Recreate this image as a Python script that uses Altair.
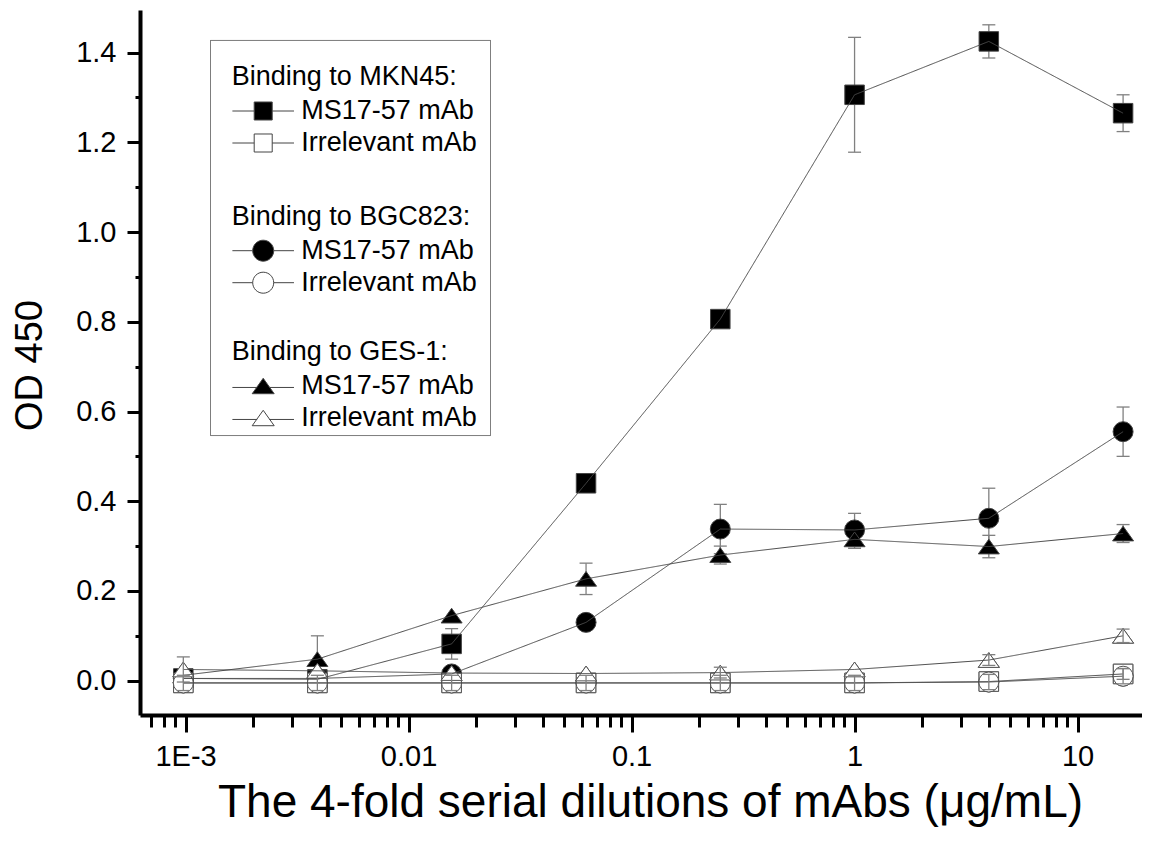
import altair as alt
import pandas as pd

FONT = "Liberation Sans"

# ---- data ----------------------------------------------------------------
dilutions = [0.000977, 0.0039, 0.0156, 0.0625, 0.25, 1.0, 4.0, 16.0]

mkn45_ms17 = [0.005, 0.003, 0.082, 0.440, 0.806, 1.306, 1.425, 1.265]
mkn45_ms17_err = [0.0, 0.0, 0.034, 0.0, 0.0, 0.128, 0.037, 0.041]
mkn45_irr = [-0.005, -0.005, -0.005, -0.005, -0.005, -0.005, -0.002, 0.015]
mkn45_irr_err = [0.0, 0.0, 0.0, 0.0, 0.0, 0.0, 0.0, 0.012]

bgc823_ms17 = [0.005, 0.005, 0.015, 0.130, 0.338, 0.336, 0.362, 0.555]
bgc823_ms17_err = [0.0, 0.0, 0.0, 0.0, 0.055, 0.037, 0.067, 0.055]
bgc823_irr = [-0.005, -0.005, -0.005, -0.005, -0.005, -0.005, -0.003, 0.010]
bgc823_irr_err = [0.017, 0.017, 0.017, 0.017, 0.017, 0.017, 0.017, 0.017]

ges1_ms17 = [0.012, 0.048, 0.145, 0.227, 0.280, 0.315, 0.299, 0.328]
ges1_ms17_err = [0.0, 0.052, 0.0, 0.035, 0.020, 0.020, 0.025, 0.020]
ges1_irr = [0.025, 0.022, 0.017, 0.016, 0.018, 0.025, 0.046, 0.100]
ges1_irr_err = [0.028, 0.0, 0.0, 0.0, 0.012, 0.0, 0.012, 0.015]

cells = ["MKN45", "BGC823", "GES-1"]
group_titles = ["Binding to MKN45:", "Binding to BGC823:", "Binding to GES-1:"]
mab_labels = ["MS17-57 mAb", "Irrelevant mAb"]

x_major_ticks = [0.001, 0.01, 0.1, 1, 10]
x_major_labels = ["1E-3", "0.01", "0.1", "1", "10"]
y_major_ticks = [0.0, 0.2, 0.4, 0.6, 0.8, 1.0, 1.2, 1.4]
y_minor_ticks = [0.1, 0.3, 0.5, 0.7, 0.9, 1.1, 1.3]

x_title = "The 4-fold serial dilutions of mAbs (\u03bcg/mL)"
y_title = "OD 450"

# ---- table ---------------------------------------------------------------
series = [
    (cells[0], mab_labels[0], mkn45_ms17, mkn45_ms17_err),
    (cells[0], mab_labels[1], mkn45_irr, mkn45_irr_err),
    (cells[1], mab_labels[0], bgc823_ms17, bgc823_ms17_err),
    (cells[1], mab_labels[1], bgc823_irr, bgc823_irr_err),
    (cells[2], mab_labels[0], ges1_ms17, ges1_ms17_err),
    (cells[2], mab_labels[1], ges1_irr, ges1_irr_err),
]
rows = []
for cell, mab, ys, es in series:
    for xv, yv, ev in zip(dilutions, ys, es):
        rows.append(dict(x=xv, y=yv, lo=yv - ev, hi=yv + ev, err=ev,
                         cell=cell, mab=mab, series=cell + " / " + mab))
df = pd.DataFrame(rows)

x_minor_ticks = [m * 10.0 ** e for e in range(-4, 2) for m in range(2, 10)]
x_minor_ticks = [v for v in x_minor_ticks if 0.00063 <= v <= 19.4]

# ---- scales & axes ---------------------------------------------------------
xscale = alt.Scale(type="log", domain=[0.0006247, 19.45], nice=False)
yscale = alt.Scale(domain=[-0.0765, 1.495], nice=False, zero=False)

label_expr = "''"
for v, lab in reversed(list(zip(x_major_ticks, x_major_labels))):
    label_expr = f"abs(datum.value - {v}) < {v * 1e-3} ? '{lab}' : ({label_expr})"

x_major_axis = alt.Axis(
    orient="bottom", values=x_major_ticks, labelExpr=label_expr, grid=False,
    tickSize=17, tickWidth=3, tickColor="black", domainWidth=4, domainColor="black",
    labelFont=FONT, labelFontSize=29, labelColor="black", labelPadding=10,
    labelAngle=0, labelFlush=False, labelOverlap=False,
    title=x_title, titleFont=FONT, titleFontSize=46, titleFontWeight="normal",
    titleColor="black", titleX=510, titleY=101, titleBaseline="alphabetic",
)
x_minor_axis = alt.Axis(
    orient="bottom", values=x_minor_ticks, labels=False, domain=False, grid=False,
    tickSize=12, tickWidth=3, tickColor="black", title=None,
)
y_major_axis = alt.Axis(
    orient="left", values=y_major_ticks, format=".1f", grid=False,
    tickSize=13, tickWidth=3, tickColor="black", domainWidth=4, domainColor="black",
    labelFont=FONT, labelFontSize=29, labelColor="black", labelPadding=11,
    labelFlush=False, labelOverlap=False,
    title=y_title, titleFont=FONT, titleFontSize=38, titleFontWeight="normal",
    titleColor="black", titleX=-99, titleY=355, titleBaseline="alphabetic",
    titleAlign="center",
)
y_minor_axis = alt.Axis(
    orient="left", values=y_minor_ticks, labels=False, domain=False, grid=False,
    tickSize=5, tickWidth=3, tickColor="black", title=None,
)

base = alt.Chart(df)
X_NOAXIS = alt.X("x:Q", scale=xscale, axis=None)

# legend frame drawn as the symbol of a one-entry legend
frame_legend = alt.Legend(
    title=None, orient="none", legendX=70, legendY=87.5, direction="vertical",
    symbolType="M-1,-1.411H1V1.411H-1Z", symbolSize=78400,
    symbolStrokeColor="#555555", symbolStrokeWidth=1, symbolFillColor="transparent",
    labelExpr="''", labelFontSize=1, labelOffset=0, padding=0,
)

lines = base.mark_line(color="#4a4a4a", strokeWidth=1).encode(
    x=alt.X("x:Q", scale=xscale, axis=x_major_axis),
    y=alt.Y("y:Q", scale=yscale, axis=y_major_axis),
    detail="series:N",
    strokeDash=alt.StrokeDash("frame:N", scale=alt.Scale(domain=["frame"], range=[[1, 0]]),
                              legend=frame_legend),
).transform_calculate(frame="'frame'")


def error_layers(mab, first=False):
    err = base.transform_filter((alt.datum.err > 0) & (alt.datum.mab == mab))
    rules = err.mark_rule(color="#808080", strokeWidth=1.3).encode(
        x=alt.X("x:Q", scale=xscale, axis=x_minor_axis) if first else X_NOAXIS,
        y=alt.Y("lo:Q", scale=yscale, axis=y_minor_axis if first else None),
        y2="hi:Q",
    )
    caps_lo = err.mark_tick(orient="horizontal", size=13, thickness=1.3,
                            color="#808080", opacity=1).encode(
        x=X_NOAXIS, y=alt.Y("lo:Q", scale=yscale, axis=None))
    caps_hi = err.mark_tick(orient="horizontal", size=13, thickness=1.3,
                            color="#808080", opacity=1).encode(
        x=X_NOAXIS, y=alt.Y("hi:Q", scale=yscale, axis=None))
    return [rules, caps_lo, caps_hi]


# legend symbols: a short line with the marker, in units of sqrt(size)/2 = 18.3 px
LEG_SIZE = 36.6 ** 2
marker_shapes = ["square", "circle", "M0,-0.7L1,0.7L-1,0.7Z"]
marker_sizes = [380, 400, 441]
legend_symbols = [
    "M-1.683,0H-0.492M0.492,0H1.683M-0.492,-0.492H0.492V0.492H-0.492Z",
    "M-1.683,0H-0.574M0.574,0H1.683M-0.574,0A0.574,0.574,0,1,0,0.574,0A0.574,0.574,0,1,0,-0.574,0Z",
    "M-1.683,0.08H-0.33M0.33,0.08H1.683M0,-0.421L0.601,0.421L-0.601,0.421Z",
]
legend_y = [54.0, 193.7, 329.0]

# markers of each cell line (filled + open) carry that cell line's legend
point_layers = []
for i, cell in enumerate(cells):
    leg = alt.Legend(
        title=group_titles[i], orient="none", legendX=91.7, legendY=legend_y[i],
        direction="vertical", padding=0,
        symbolType=legend_symbols[i], symbolSize=LEG_SIZE, symbolOffset=12.5,
        symbolStrokeColor="#444444", symbolStrokeWidth=1,
        labelFont=FONT, labelFontSize=27, labelColor="black", labelOffset=19.1,
        labelLimit=400, titleFont=FONT, titleFontSize=27, titleFontWeight="normal",
        titleColor="black", titleLimit=400, titlePadding=1.0, rowPadding=0,
    )
    p = base.transform_filter(alt.datum.cell == cell).mark_point(
        shape=marker_shapes[i], size=marker_sizes[i], filled=True,
        stroke="#444444", strokeWidth=1, opacity=1,
    ).encode(
        x=X_NOAXIS,
        y=alt.Y("y:Q", scale=yscale, axis=None),
        fill=alt.Fill("mab:N", scale=alt.Scale(domain=mab_labels, range=["#000000", "#ffffff"]),
                      legend=leg),
    )
    point_layers.append(p)

# open (irrelevant mAb) markers redrawn on top, white-filled
open_layers = []
for i, cell in enumerate(cells):
    o = base.transform_filter((alt.datum.cell == cell) & (alt.datum.mab == mab_labels[1])).mark_point(
        shape=marker_shapes[i], size=marker_sizes[i], filled=True,
        fill="#ffffff", stroke="#555555", strokeWidth=1, opacity=1,
    ).encode(x=X_NOAXIS, y=alt.Y("y:Q", scale=yscale, axis=None))
    open_layers.append(o)

layers = (error_layers(mab_labels[0], first=True) + point_layers + open_layers
          + [lines] + error_layers(mab_labels[1]))

chart = alt.layer(*layers).resolve_scale(
    fill="independent", strokeDash="independent"
).resolve_axis(
    x="independent", y="independent"
).properties(
    width=1002, height=705,
    autosize=alt.AutoSizeParams(type="none"),
    padding={"left": 132, "top": 2, "right": 0, "bottom": 112},
).configure(font=FONT).configure_view(stroke=None)

chart.save("out.html", embed_options={"renderer": "svg", "actions": False})
